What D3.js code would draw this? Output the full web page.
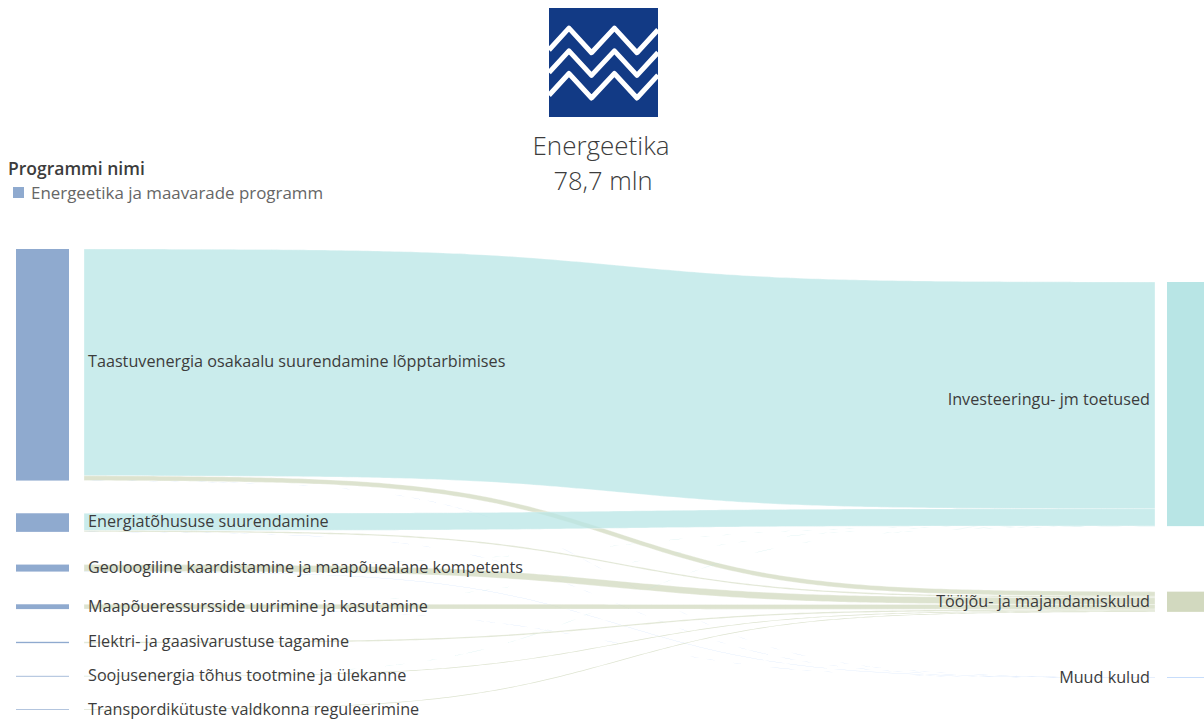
<!DOCTYPE html>
<html>
<head>
<meta charset="utf-8">
<script src="https://d3js.org/d3.v7.min.js"></script>
<style>
    body { margin: 0; background: #fff; overflow: hidden; }
    svg { display: block; }
    svg text { font-family: "Open Sans", sans-serif; fill: #3c3c3c; }
</style>
</head>
<body>
<script>

    // Values in mln euro
    const programs = [
        "Taastuvenergia osakaalu suurendamine lõpptarbimises",
        "Energiatõhususe suurendamine",
        "Geoloogiline kaardistamine ja maapõuealane kompetents",
        "Maapõueressursside uurimine ja kasutamine",
        "Elektri- ja gaasivarustuse tagamine",
        "Soojusenergia tõhus tootmine ja ülekanne",
        "Transpordikütuste valdkonna reguleerimine"
    ];
    const costTypes = ["Investeeringu- jm toetused", "Tööjõu- ja majandamiskulud", "Muud kulud"];
    const investValues = [67.3, 5.1, 0.01, 0.01, 0, 0.03, 0];
    const laborValues = [1.4, 0.4, 2.0, 1.4, 0.4, 0.2, 0.2];
    const otherValues = [0.02, 0.02, 0.07, 0.02, 0, 0, 0];
    const totalLabel = "78,7 mln";
    const titleLabel = "Energeetika";
    const legendTitle = "Programmi nimi";
    const legendItem = "Energeetika ja maavarade programm";

    const costColors = ["#b8e5e5", "#d2d9bf", "#7fb0f5"];
    const programColor = "#8faacf";

    const byCost = [investValues, laborValues, otherValues];

    const width = 1204, height = 720;
    const thickness = d3.scaleLinear().domain([0, 78.7]).range([0, 265.2]);

    const svg = d3.select("body").append("svg")
        .attr("width", width)
        .attr("height", height);

    // stack the two node columns
    function stack(values, top, gap) {
        let y = top;
        return values.map(function (v) {
            const node = { y0: y, y1: y + thickness(v), next: y };
            y = node.y1 + gap;
            return node;
        });
    }

    const programTotals = programs.map((p, i) => d3.sum(byCost, c => c[i]));
    const costTotals = byCost.map(c => d3.sum(c));
    const leftNodes = stack(programTotals, 249, 32.7);
    const rightNodes = stack(costTotals, 282, 65.5);

    // build ribbons: left side ordered by cost type, right side by program
    const flows = [];
    programs.forEach(function (p, i) {
        costTypes.forEach(function (c, j) {
            const t = thickness(byCost[j][i]);
            const left = leftNodes[i], right = rightNodes[j];
            if (t > 0) {
                flows.push({ cost: j, program: i, t: t, ly: left.next, ry: right.next });
            }
            left.next += t;
            right.next += t;
        });
    });

    // sigmoid ribbon between the two columns, -6..6 on the logistic curve
    const ribbonX = d3.scaleLinear().domain([0, 1]).range([84, 1155]);
    const logistic = x => 1 / (1 + Math.exp(-x));
    const ease = d3.scaleLinear()
        .domain([logistic(-6), logistic(6)])
        .range([0, 1]);
    const ribbonSteps = d3.range(0, 201).map(i => i / 200);

    const ribbon = d3.area()
        .x(d => d.x)
        .y0(d => d.y0)
        .y1(d => d.y1);

    svg.append("g").selectAll("path")
        .data(flows)
        .enter()
        .append("path")
        .attr("d", function (d) {
            return ribbon(ribbonSteps.map(function (s) {
                const y = d.ly + (d.ry - d.ly) * ease(logistic(12 * s - 6));
                return { x: ribbonX(s), y0: y, y1: y + d.t };
            }));
        })
        .attr("fill", d => costColors[d.cost])
        .attr("fill-opacity", d => d.cost == 2 ? 0.4 : 0.75)
        .attr("stroke", d => d.t > 1 ? "#fff" : "none")
        .attr("stroke-width", 0.4)
        .attr("stroke-opacity", 0.8);

    // left nodes
    svg.append("g").selectAll("rect")
        .data(leftNodes)
        .enter()
        .append("rect")
        .attr("x", 16)
        .attr("width", 53)
        .attr("y", d => d.y0)
        .attr("height", d => d.y1 - d.y0)
        .attr("fill", programColor);

    // right nodes
    svg.append("g").selectAll("rect")
        .data(rightNodes)
        .enter()
        .append("rect")
        .attr("x", 1167)
        .attr("width", 37)
        .attr("y", d => d.y0)
        .attr("height", d => d.y1 - d.y0)
        .attr("fill", (d, i) => costColors[i]);

    // labels
    svg.append("g").selectAll("text")
        .data(programs)
        .enter()
        .append("text")
        .attr("x", 88)
        .attr("y", (d, i) => i == 0 ? leftNodes[0].y0 + thickness(investValues[0]) / 2 : (leftNodes[i].y0 + leftNodes[i].y1) / 2)
        .attr("dy", ".3em")
        .style("font-size", "16.2px")
        .text(d => d);

    const rightNudge = [-3.5, 0, 1];
    svg.append("g").selectAll("text")
        .data(costTypes)
        .enter()
        .append("text")
        .attr("x", 1150)
        .attr("y", (d, i) => (rightNodes[i].y0 + rightNodes[i].y1) / 2 + rightNudge[i])
        .attr("dy", ".3em")
        .attr("text-anchor", "end")
        .style("font-size", "16.2px")
        .text(d => d);

    // legend
    svg.append("text")
        .attr("x", 8).attr("y", 175)
        .style("font-size", "17.5px")
        .style("font-weight", 600)
        .text(legendTitle);
    svg.append("rect")
        .attr("x", 13).attr("y", 187)
        .attr("width", 11).attr("height", 11)
        .attr("fill", programColor);
    svg.append("text")
        .attr("x", 31).attr("y", 199)
        .style("font-size", "16.9px")
        .style("fill", "#666")
        .text(legendItem);

    // title
    svg.append("text")
        .attr("x", 601).attr("y", 155)
        .attr("text-anchor", "middle")
        .style("font-size", "26px")
        .style("font-weight", 300)
        .text(titleLabel);
    svg.append("text")
        .attr("x", 603).attr("y", 190)
        .attr("text-anchor", "middle")
        .style("font-size", "25.5px")
        .style("font-weight", 300)
        .text(totalLabel);

    // icon, three zigzag lines on a blue square
    const zigzagX = [0, 0.183, 0.39, 0.6, 0.807, 1];
    const zigzagY = [0.385, 0.185, 0.41, 0.185, 0.41, 0.2];
    const zigzagShift = [0, 0.208, 0.416];

    const iconX = d3.scaleLinear().domain([0, 1]).range([549, 658]);
    const iconY = d3.scaleLinear().domain([0, 1]).range([8, 117]);

    svg.append("rect")
        .attr("x", iconX(0)).attr("y", iconY(0))
        .attr("width", iconX(1) - iconX(0))
        .attr("height", iconY(1) - iconY(0))
        .attr("fill", "#123a85");

    const zigzag = d3.line();
    svg.append("g").selectAll("path")
        .data(zigzagShift)
        .enter()
        .append("path")
        .attr("d", function (s) {
            return zigzag(zigzagX.map((x, i) => [iconX(x), iconY(zigzagY[i] + s)]));
        })
        .attr("fill", "none")
        .attr("stroke", "#fff")
        .attr("stroke-width", 5)
        .attr("stroke-linejoin", "round");

</script>
</body>
</html>
